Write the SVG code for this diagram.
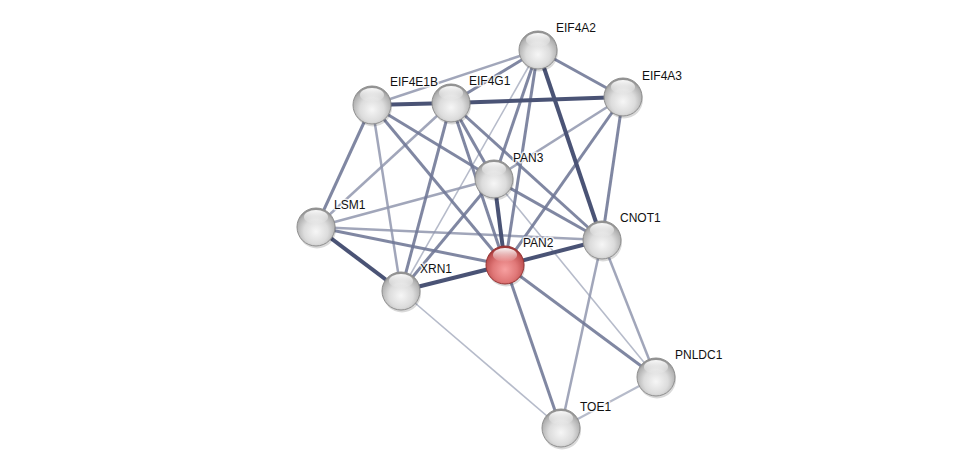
<svg xmlns="http://www.w3.org/2000/svg" width="976" height="474" viewBox="0 0 976 474">
<defs>
<radialGradient id="gGray" cx="50%" cy="62%" r="58%">
<stop offset="0%" stop-color="#f6f6f6"/>
<stop offset="55%" stop-color="#dcdcdc"/>
<stop offset="90%" stop-color="#b0b0b0"/>
<stop offset="100%" stop-color="#939393"/>
</radialGradient>
<radialGradient id="gRed" cx="50%" cy="62%" r="58%">
<stop offset="0%" stop-color="#f7a0a0"/>
<stop offset="55%" stop-color="#e07878"/>
<stop offset="90%" stop-color="#bf5050"/>
<stop offset="100%" stop-color="#a03838"/>
</radialGradient>
<linearGradient id="gHi" x1="0" y1="0" x2="0" y2="1">
<stop offset="0%" stop-color="#ffffff" stop-opacity="0.95"/>
<stop offset="100%" stop-color="#ffffff" stop-opacity="0"/>
</linearGradient>
<g id="sphere">
<circle cx="1" cy="2.5" r="19" fill="#000" opacity="0.15"/>
<circle r="19" fill="url(#gGray)" stroke="#8e8e8e" stroke-width="1"/>
<ellipse cx="0" cy="-10" rx="12" ry="7" fill="url(#gHi)"/>
</g>
<g id="sphereRed">
<circle cx="1" cy="2.5" r="19" fill="#000" opacity="0.15"/>
<circle r="19" fill="url(#gRed)" stroke="#973434" stroke-width="1"/>
<ellipse cx="0" cy="-10" rx="12" ry="7" fill="url(#gHi)"/>
</g>
</defs>
<style>
.e1{stroke:#4a5375;stroke-width:4;fill:none}
.e2{stroke:#6e7695;stroke-width:3;fill:none;opacity:0.88}
.e3{stroke:#9096ae;stroke-width:2.5;fill:none;opacity:0.85}
.e4{stroke:#b6bbca;stroke-width:1.6;fill:none}
text{font-family:"Liberation Sans",Arial,sans-serif;font-size:12px;fill:#111;stroke:#fff;stroke-width:3;stroke-opacity:0.8;paint-order:stroke;stroke-linejoin:round}
</style>
<rect width="976" height="474" fill="#fff"/>
<g id="edges">
<line class="e4" x1="538" y1="50" x2="401" y2="291"/>
<line class="e4" x1="494" y1="179" x2="656" y2="377"/>
<line class="e4" x1="401" y1="291" x2="561" y2="428"/>
<line class="e4" x1="561" y1="428" x2="656" y2="377" style="stroke-width:2"/>
<line class="e3" x1="538" y1="50" x2="372" y2="105"/>
<line class="e3" x1="623" y1="97" x2="494" y2="179"/>
<line class="e3" x1="316" y1="227" x2="494" y2="179"/>
<line class="e3" x1="316" y1="227" x2="602" y2="240"/>
<line class="e3" x1="451" y1="103" x2="316" y2="227"/>
<line class="e3" x1="372" y1="105" x2="401" y2="291"/>
<line class="e3" x1="602" y1="240" x2="561" y2="428"/>
<line class="e3" x1="602" y1="240" x2="656" y2="377"/>
<line class="e2" x1="538" y1="50" x2="451" y2="103"/>
<line class="e2" x1="538" y1="50" x2="623" y2="97"/>
<line class="e2" x1="538" y1="50" x2="494" y2="179"/>
<line class="e2" x1="538" y1="50" x2="505" y2="265"/>
<line class="e2" x1="623" y1="97" x2="505" y2="265"/>
<line class="e2" x1="623" y1="97" x2="602" y2="240"/>
<line class="e2" x1="451" y1="103" x2="401" y2="291"/>
<line class="e2" x1="451" y1="103" x2="602" y2="240"/>
<line class="e2" x1="451" y1="103" x2="494" y2="179"/>
<line class="e2" x1="451" y1="103" x2="505" y2="265"/>
<line class="e2" x1="372" y1="105" x2="505" y2="265"/>
<line class="e2" x1="372" y1="105" x2="494" y2="179"/>
<line class="e2" x1="372" y1="105" x2="316" y2="227"/>
<line class="e2" x1="494" y1="179" x2="602" y2="240"/>
<line class="e2" x1="401" y1="291" x2="494" y2="179"/>
<line class="e2" x1="316" y1="227" x2="505" y2="265"/>
<line class="e2" x1="505" y1="265" x2="656" y2="377"/>
<line class="e2" x1="505" y1="265" x2="561" y2="428"/>
<line class="e1" x1="372" y1="105" x2="451" y2="103"/>
<line class="e1" x1="451" y1="103" x2="623" y2="97"/>
<line class="e1" x1="538" y1="50" x2="602" y2="240"/>
<line class="e1" x1="494" y1="179" x2="505" y2="265"/>
<line class="e1" x1="316" y1="227" x2="401" y2="291"/>
<line class="e1" x1="401" y1="291" x2="505" y2="265"/>
<line class="e1" x1="505" y1="265" x2="602" y2="240"/>
</g>
<g id="EIF4A2"><use href="#sphere" x="538" y="50"/><text x="556" y="32">EIF4A2</text></g>
<g id="EIF4A3"><use href="#sphere" x="623" y="97"/><text x="642" y="80">EIF4A3</text></g>
<g id="EIF4E1B"><use href="#sphere" x="372" y="105"/><text x="390" y="86">EIF4E1B</text></g>
<g id="EIF4G1"><use href="#sphere" x="451" y="103"/><text x="469" y="85">EIF4G1</text></g>
<g id="PAN3"><use href="#sphere" x="494" y="179"/><text x="513" y="162">PAN3</text></g>
<g id="LSM1"><use href="#sphere" x="316" y="227"/><text x="334" y="209">LSM1</text></g>
<g id="CNOT1"><use href="#sphere" x="602" y="240"/><text x="620" y="222">CNOT1</text></g>
<g id="XRN1"><use href="#sphere" x="401" y="291"/><text x="420" y="273">XRN1</text></g>
<g id="PAN2"><use href="#sphereRed" x="505" y="265"/><text x="523" y="247">PAN2</text></g>
<g id="PNLDC1"><use href="#sphere" x="656" y="377"/><text x="675" y="359">PNLDC1</text></g>
<g id="TOE1"><use href="#sphere" x="561" y="428"/><text x="580" y="411">TOE1</text></g>
</svg>
